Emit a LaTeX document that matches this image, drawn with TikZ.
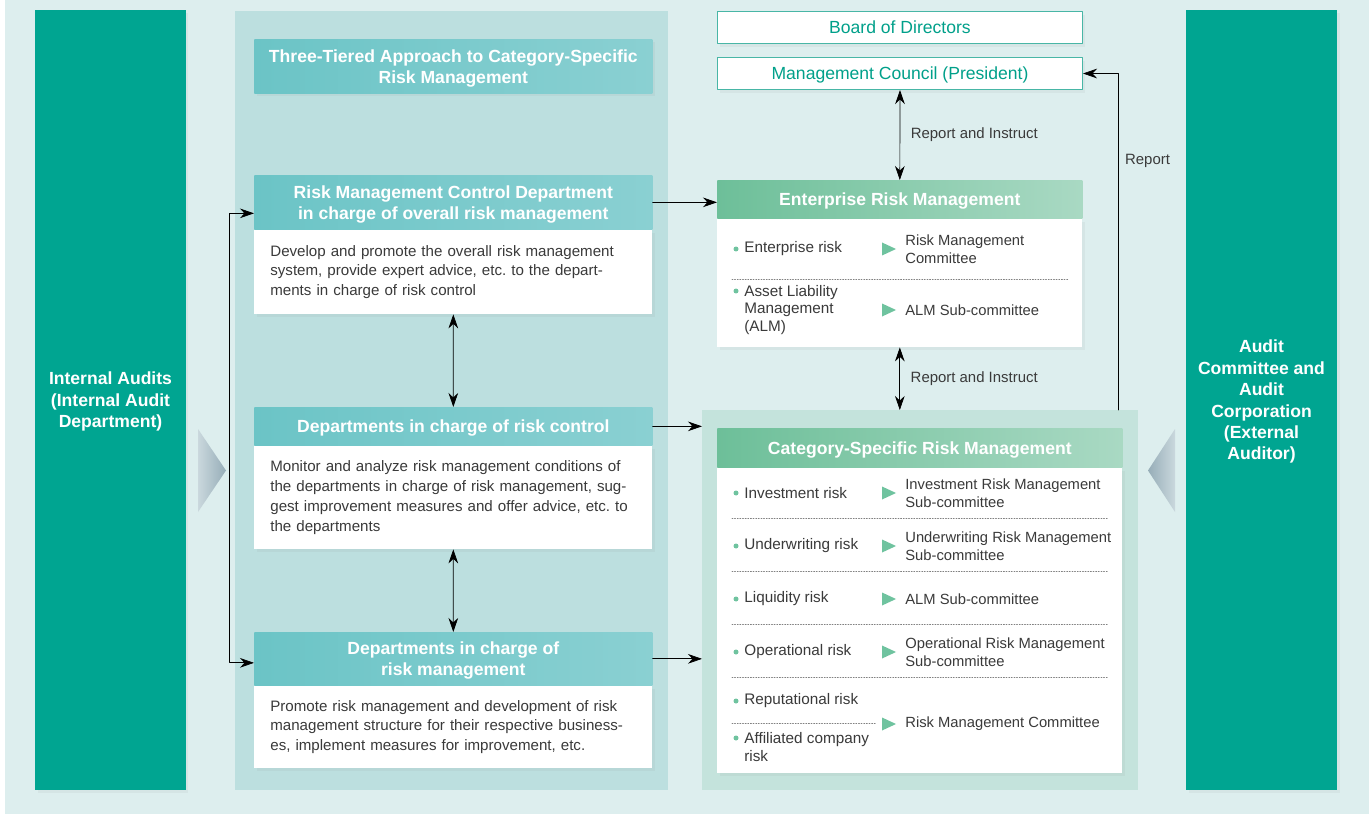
\documentclass[tikz,border=0pt]{standalone}
\usepackage{fontspec}
\setmainfont{Liberation Sans}
\usetikzlibrary{arrows.meta,shadows}
\frenchspacing

\definecolor{pagebg}{HTML}{DDEEEE}
\definecolor{panelbg}{HTML}{BCDFDF}
\definecolor{catbg}{HTML}{C4E3DC}
\definecolor{auditteal}{HTML}{00A591}
\definecolor{hdrcyan}{HTML}{6BC4C6}
\definecolor{hdrcyanlt}{HTML}{8AD0D2}
\definecolor{hdrgreen}{HTML}{6DBF99}
\definecolor{hdrgreenlt}{HTML}{A9D9C3}
\definecolor{mint}{HTML}{6FC39F}
\definecolor{boardline}{HTML}{48B6A6}
\definecolor{boardtext}{HTML}{00A08A}
\definecolor{bodytext}{HTML}{3A3A3A}
\definecolor{wedgedark}{HTML}{96ADB8}
\definecolor{wedgelight}{HTML}{CAD8DD}

\newcommand{\hdrfont}{\fontsize{10}{12}\selectfont\bfseries}
\newcommand{\descfont}{\fontsize{8.6}{11.3}\selectfont}
\newcommand{\itemfont}{\fontsize{8.7}{10.2}\selectfont}
\newcommand{\cmtefont}{\fontsize{8.4}{10.2}\selectfont}

\tikzset{
  softshadow/.style={drop shadow={shadow xshift=0.5mm, shadow yshift=-0.6mm, opacity=0.08}},
  auditcol/.style={fill=auditteal, text=white, font=\fontsize{10}{12.2}\selectfont\bfseries, align=center, text depth=0pt, minimum width=3.02cm, minimum height=15.6cm, inner sep=0pt, softshadow},
  hdr/.style={left color=hdrcyan, right color=hdrcyanlt, text=white, font=\hdrfont, align=center, text depth=0pt, inner sep=0pt, minimum width=7.96cm, anchor=north west},
  hdrg/.style={left color=hdrgreen, right color=hdrgreenlt, text=white, font=\hdrfont, align=center, text depth=0pt, inner sep=0pt, anchor=north west},
  desc/.style={fill=white, text=bodytext, font=\descfont, align=left, text width=7.32cm, inner xsep=0.32cm, inner ysep=0pt, anchor=north west, softshadow},
  panelbody/.style={fill=white, inner sep=0pt, anchor=north west, softshadow},
  boardbox/.style={draw=boardline, line width=0.6pt, fill=white, text=boardtext, font=\fontsize{10}{12}\selectfont, text depth=0pt, minimum width=7.3cm, minimum height=0.64cm, inner sep=0pt, anchor=north west, softshadow},
  item/.style={text=bodytext, font=\itemfont, align=left, inner sep=0pt, anchor=west},
  cmte/.style={item, font=\cmtefont},
  note/.style={text=bodytext, font=\fontsize{8.5}{10}\selectfont, inner sep=0pt},
  sepline/.style={densely dotted, gray, line width=0.5pt},
  marktri/.pic={\fill[mint] (0,-6.5) -- (14,0) -- (0,6.5) -- cycle;}
}

\begin{document}
\begin{tikzpicture}[x=0.02cm, y=-0.02cm, line cap=round, line join=round, >={Stealth[length=8pt,width=5.5pt]}]
\useasboundingbox (0,0) rectangle (1369,814);
\fill[pagebg] (5,0) rectangle (1369,814);

% audit columns
\node[auditcol] (internal) at (110.5,400) {Internal Audits\\(Internal Audit\\Department)};
\node[auditcol] (external) at (1261.5,400) {Audit\\Committee and\\Audit\\Corporation\\(External\\Auditor)};
\shade[left color=wedgelight, right color=wedgedark] (198,429) -- (226,470.5) -- (198,512) -- cycle;
\shade[left color=wedgedark, right color=wedgelight] (1148,470.5) -- (1175,429) -- (1175,512) -- cycle;

% three tiers
\node[fill=panelbg, minimum width=8.66cm, minimum height=15.58cm, anchor=north west, inner sep=0pt] (tierpanel) at (235,11) {};
\node[hdr, minimum height=1.08cm, softshadow] (tiertitle) at (254,39) {Three-Tiered Approach to Category-Specific\\Risk Management};

\node[hdr, minimum height=1.08cm] (rmchead) at (254,175) {Risk Management Control Department\\in charge of overall risk management};
\node[desc, minimum height=1.68cm] (rmcbody) at (rmchead.south west) {Develop and promote the overall risk management\\system, provide expert advice, etc. to the depart-\\ments in charge of risk control};

\node[hdr, minimum height=0.76cm] (rchead) at (254,407) {Departments in charge of risk control};
\node[desc, minimum height=2.06cm] (rcbody) at (rchead.south west) {Monitor and analyze risk management conditions of\\the departments in charge of risk management, sug-\\gest improvement measures and offer advice, etc. to\\the departments};

\node[hdr, minimum height=1.06cm] (rmhead) at (254,632) {Departments in charge of\\risk management};
\node[desc, minimum height=1.64cm] (rmbody) at (rmhead.south west) {Promote risk management and development of risk\\management structure for their respective business-\\es, implement measures for improvement, etc.};

\draw[<->] (rmcbody.south) -- (rchead.north);
\draw[<->] (rcbody.south) -- (rmhead.north);
\draw[<->] ([yshift=-0.22cm]rmchead.west) -- ++(-25,0) |- ([yshift=-0.08cm]rmhead.west);

% board and council
\node[boardbox] (board) at (717,11) {Board of Directors};
\node[boardbox] (council) at (717,57) {Management Council (President)};

% enterprise risk management
\node[hdrg, minimum width=7.3cm, minimum height=0.76cm] (ermhead) at (717,180) {Enterprise Risk Management};
\node[panelbody, minimum width=7.3cm, minimum height=2.56cm] (ermbody) at (ermhead.south west) {};

\fill[mint] (736,249) circle (0.05cm);
\node[item] (ermrisk1) at (744,249) {Enterprise risk};
\pic at (882,249) {marktri};
\node[cmte] (ermcmte1) at (905,249) {Risk Management\\Committee};
\draw[sepline] (732,279) -- (1068,279);
\fill[mint] (736,291) circle (0.05cm);
\node[item] (ermrisk2) at (744,310) {Asset Liability\\Management\\(ALM)};
\pic at (882,310) {marktri};
\node[cmte] (ermcmte2) at (905,310) {ALM Sub-committee};

% category-specific risk management
\node[fill=catbg, minimum width=8.72cm, minimum height=7.6cm, anchor=north west, inner sep=0pt] (catbox) at (702,410) {};
\node[hdrg, minimum width=8.1cm, minimum height=0.78cm] (cathead) at (717,428) {Category-Specific Risk Management};
\node[panelbody, minimum width=8.1cm, minimum height=6.1cm] (catbody) at (cathead.south west) {};

\foreach \yy/\risk/\cmtetext in {493/Investment risk/{Investment Risk Management\\Sub-committee},
    546/Underwriting risk/{Underwriting Risk Management\\Sub-committee},
    599/Liquidity risk/ALM Sub-committee,
    652/Operational risk/{Operational Risk Management\\Sub-committee}}{
  \fill[mint] (736,\yy) circle (0.05cm);
  \node[item] (risk\yy) at (744,\yy) {\risk};
  \pic at (882,\yy) {marktri};
  \node[cmte] (cmte\yy) at (905,\yy) {\cmtetext};
  \draw[sepline] (732,\yy+25) -- (1108,\yy+25);
}
\fill[mint] (736,701) circle (0.05cm);
\node[item] (risk701) at (744,701) {Reputational risk};
\draw[sepline] (732,723) -- (876,723);
\fill[mint] (736,738) circle (0.05cm);
\node[item] (risk747) at (744,747) {Affiliated company\\risk};
\pic at (882,724) {marktri};
\node[cmte] (cmte724) at (905,724) {Risk Management Committee};

% connectors
\draw[->] (rmchead.east) -- (rmchead.east -| ermhead.west);
\draw[->] (rchead.east) -- (rchead.east -| catbox.west);
\draw[->] (rmhead.east) -- (rmhead.east -| catbox.west);
\draw[<->] (council.south) -- (ermhead.north) node[note, midway, right=6pt] {Report and Instruct};
\draw[<->] (ermbody.south) -- (ermbody.south |- catbox.north) node[note, midway, right=6pt] {Report and Instruct};
\draw[->] ([xshift=-0.4cm]catbox.north east) |- (council.east) node[note, pos=0.37, right=3.5pt] {Report};
\end{tikzpicture}
\end{document}
